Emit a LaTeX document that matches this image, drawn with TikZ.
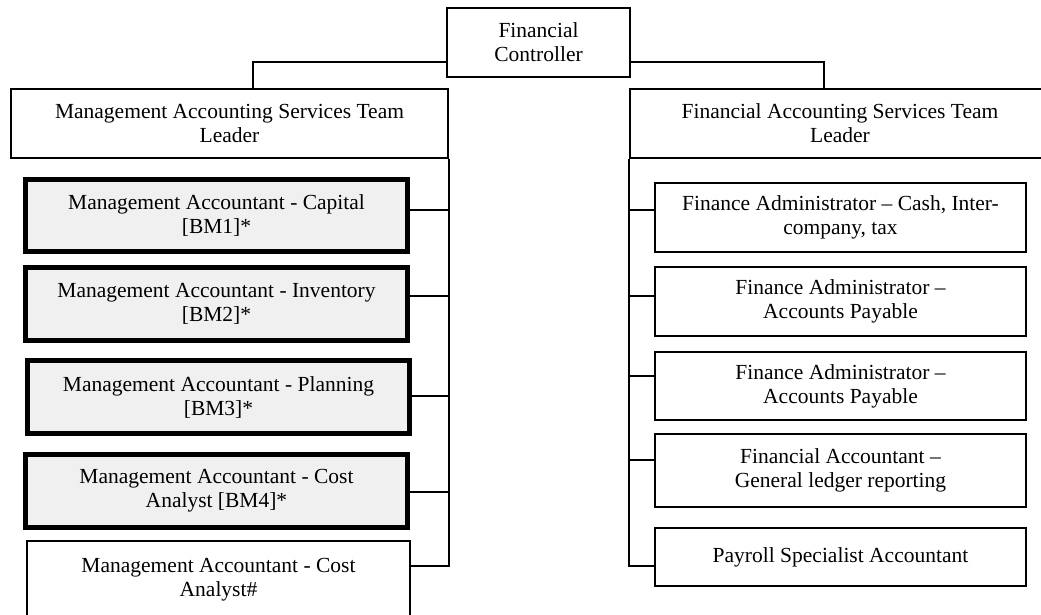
\documentclass[tikz,border=0pt]{standalone}
\usepackage{fontspec}
\setmainfont{Liberation Serif}
\usetikzlibrary{calc}
\definecolor{boxfill}{RGB}{240,240,240}
\begin{document}
\begin{tikzpicture}[x=1pt,y=-1pt,
  every node/.style={font=\fontsize{21.5}{24}\selectfont, align=center, inner sep=0pt},
  thinbox/.style={draw=black, line width=1.6pt, fill=white},
  thickbox/.style={draw=black, line width=5pt, fill=boxfill},
  conn/.style={draw=black, line width=1.6pt}]
\useasboundingbox (0,0) rectangle (1041,615);
\clip (0,0) rectangle (1041,614.3);
% top
\node[thinbox, minimum width=183pt, minimum height=69pt] (FC) at (538.5,42.5) {Financial\\Controller};
\node[thinbox, minimum width=437pt, minimum height=69pt] (MAS) at (229.5,123.5) {Management Accounting Services Team\\Leader};
\node[thinbox, minimum width=420pt, minimum height=69pt] (FAS) at (840,123.5) {Financial Accounting Services Team\\Leader};
% left children
\node[thickbox, minimum width=382pt, minimum height=72pt] (M1) at (216.5,215.5) {Management Accountant - Capital\\\relax{[BM1]*}};
\node[thickbox, minimum width=382pt, minimum height=73pt] (M2) at (216.5,304) {Management Accountant - Inventory\\\relax{[BM2]*}};
\node[thickbox, minimum width=382pt, minimum height=73pt] (M3) at (218.5,397) {Management Accountant - Planning\\\relax{[BM3]*}};
\node[thickbox, minimum width=382pt, minimum height=73pt] (M4) at (216.5,491) {Management Accountant - Cost\\Analyst {[BM4]*}};
\node[thinbox, minimum width=383pt, minimum height=78pt] (M5) at (218.5,580) {Management Accountant - Cost\\Analyst\#};
% right children
\node[thinbox, minimum width=371pt, minimum height=69pt] (F1) at (840.5,217.5) {Finance Administrator -- Cash, Inter-\\company, tax};
\node[thinbox, minimum width=371pt, minimum height=69pt] (F2) at (840.5,301.5) {Finance Administrator --\\Accounts Payable};
\node[thinbox, minimum width=371pt, minimum height=68pt] (F3) at (840.5,386) {Finance Administrator --\\Accounts Payable};
\node[thinbox, minimum width=371pt, minimum height=73pt] (F4) at (840.5,470.5) {Financial Accountant --\\General ledger reporting};
\node[thinbox, minimum width=371pt, minimum height=58pt] (F5) at (840.5,557) {\raisebox{4pt}{Payroll Specialist Accountant}};
% connectors from controller
\coordinate (FCl) at ($(FC.south west)+(0,-16)$);
\coordinate (FCr) at ($(FC.south east)+(0,-16)$);
\coordinate (MASt) at ($(MAS.north)+(23.5,0)$);
\coordinate (FASt) at ($(FAS.north)+(-16,0)$);
\draw[conn] (FCl) -| (MASt);
\draw[conn] (FCr) -| (FASt);
% left trunk
\coordinate (L1) at ($(M1.east)+(0,-5.5)$);
\coordinate (L2) at ($(M2.east)+(0,-8)$);
\coordinate (L3) at ($(M3.east)+(0,-1)$);
\coordinate (L4) at ($(M4.east)+(0,1)$);
\coordinate (L5) at ($(M5.east)+(0,-14)$);
\draw[conn] (MAS.south east) |- (L5);
\draw[conn] (L1) -- (L1 -| MAS.east);
\draw[conn] (L2) -- (L2 -| MAS.east);
\draw[conn] (L3) -- (L3 -| MAS.east);
\draw[conn] (L4) -- (L4 -| MAS.east);
% right trunk
\coordinate (R1) at ($(F1.west)+(0,-7.5)$);
\coordinate (R2) at ($(F2.west)+(0,-5.5)$);
\coordinate (R3) at ($(F3.west)+(0,-10)$);
\coordinate (R4) at ($(F4.west)+(0,-10.5)$);
\coordinate (R5) at ($(F5.west)+(0,9)$);
\draw[conn] (FAS.south west) |- (R5);
\draw[conn] (R1 -| FAS.west) -- (R1);
\draw[conn] (R2 -| FAS.west) -- (R2);
\draw[conn] (R3 -| FAS.west) -- (R3);
\draw[conn] (R4 -| FAS.west) -- (R4);
\end{tikzpicture}
\end{document}
